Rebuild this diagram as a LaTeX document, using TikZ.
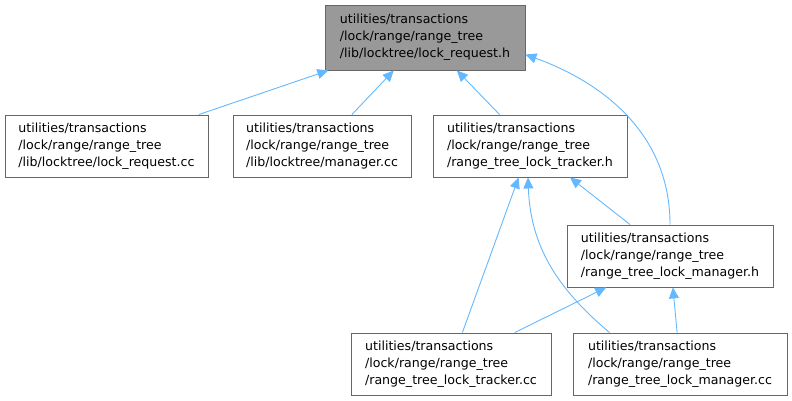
\documentclass[tikz,border=0pt]{standalone}
\usepackage{fontspec}
\setmainfont{DejaVu Sans}
\usetikzlibrary{arrows.meta,positioning}
\definecolor{edgeblue}{HTML}{63B8FF}
\definecolor{boxgray}{HTML}{666666}
\definecolor{rootfill}{HTML}{999999}
\begin{document}
\begin{tikzpicture}[x=1pt, y=1pt,
  file/.style={draw=boxgray, fill=#1, line width=0.9pt, align=left,
    minimum height=62pt, inner sep=0pt,
    font=\fontsize{12.6}{17}\selectfont},
  file/.default=white,
  arr/.style={{Triangle[length=11pt,width=10pt]}-, edgeblue, line width=0.9pt}
]
  \useasboundingbox (0,0) rectangle (792,-401);
  \node[file=rootfill, minimum width=200pt, minimum height=65pt] (reqh) at (425,-37.5)
    {utilities/transactions\\/lock/range/range\_tree\\/lib/locktree/lock\_request.h};
  \node[file, minimum width=203pt] (reqcc) at (106.5,-146)
    {utilities/transactions\\/lock/range/range\_tree\\/lib/locktree/lock\_request.cc};
  \node[file, minimum width=178pt] (mancc) at (322,-146)
    {utilities/transactions\\/lock/range/range\_tree\\/lib/locktree/manager.cc};
  \node[file, minimum width=194pt] (trkh) at (530,-146)
    {utilities/transactions\\/lock/range/range\_tree\\/range\_tree\_lock\_tracker.h};
  \node[file, minimum width=206pt] (mgrh) at (670,-256)
    {utilities/transactions\\/lock/range/range\_tree\\/range\_tree\_lock\_manager.h};
  \node[file, minimum width=200pt] (trkcc) at (451,-364)
    {utilities/transactions\\/lock/range/range\_tree\\/range\_tree\_lock\_tracker.cc};
  \node[file, minimum width=214pt] (mgrcc) at (680,-364)
    {utilities/transactions\\/lock/range/range\_tree\\/range\_tree\_lock\_manager.cc};
  % straight includes
  \foreach \a/\b in {reqh/reqcc, reqh/mancc, reqh/trkh, trkh/trkcc, trkh/mgrh,
                     mgrh/trkcc, mgrh/mgrcc}{
    \draw[arr] (\a) -- (\b);
  }
  % curved includes
  \draw[arr] ([yshift=-17pt]reqh.east) to[out=-20, in=90] (mgrh.north);
  \draw[arr] ([xshift=-2pt]trkh.south) to[out=-88, in=140] ([xshift=37pt]mgrcc.north west);
\end{tikzpicture}
\end{document}
